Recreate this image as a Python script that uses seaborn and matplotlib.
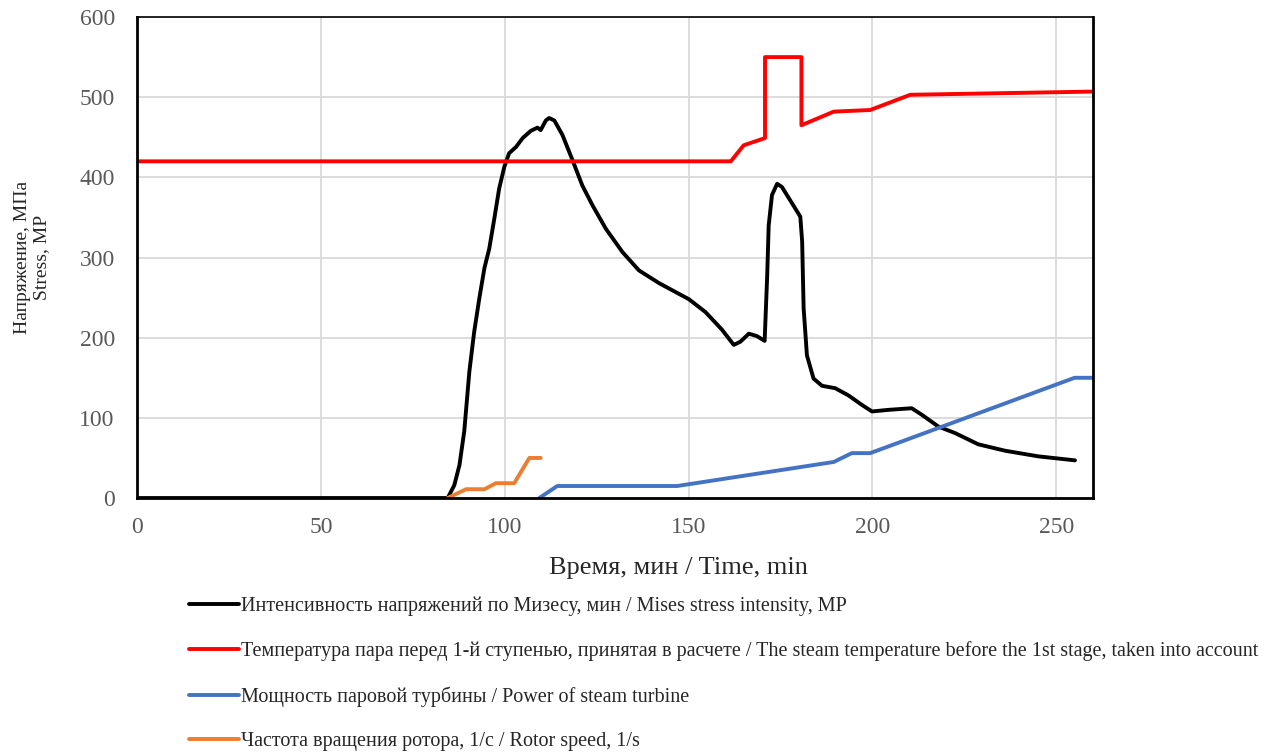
import numpy as np
import pandas as pd
import matplotlib
matplotlib.use("Agg")
import matplotlib.pyplot as plt
from matplotlib.ticker import MultipleLocator
import seaborn as sns

# --- data ---
mises_t = [0, 84.5, 86.3, 87.7, 89.0, 90.4, 91.7, 93.1, 94.5, 95.8, 97.2, 98.5, 99.9,
           101.2, 103.1, 104.9, 107.1, 108.9, 109.8, 111.2, 112.1, 113.5, 115.7, 118.4,
           121.1, 123.9, 127.5, 132.0, 136.5, 142.0, 150.1, 154.6, 159.1, 162.3, 164.1,
           166.4, 168.6, 170.7, 171.4, 171.8, 172.7, 174.1, 175.4, 180.4, 180.9, 181.3,
           182.2, 184.0, 186.3, 189.9, 193.5, 197.2, 199.9, 204.4, 210.7, 213.4, 218.0,
           222.5, 228.8, 236.1, 245.1, 255.1]
mises_s = [0, 0, 16, 41, 83, 158, 207, 249, 287, 311, 349, 386, 413,
           430, 438, 449, 458, 462, 459, 471, 474, 471, 453, 422,
           390, 365, 336, 307, 284, 268, 248, 232, 210, 191, 195,
           205, 202, 196, 278, 340, 378, 392, 388, 351, 320, 237,
           178, 149, 140, 137, 128, 116, 108, 110, 112, 104, 89,
           81, 67, 59, 52, 47]

temp_t = [0, 161.5, 165, 170.8, 170.8, 180.7, 180.7, 189.5, 199.4, 210.3, 260]
temp_v = [420, 420, 440, 449, 550, 550, 465, 482, 484, 503, 507]

power_t = [109.4, 114.3, 146.9, 189.5, 194.4, 199.4, 255, 260]
power_v = [0, 15, 15, 45, 56, 56, 150, 150]

speed_t = [84.5, 89.5, 94.5, 97.6, 102.6, 106.7, 109.8]
speed_v = [0, 11, 11, 18.5, 18.5, 50, 50]

labels = [
    "Интенсивность напряжений по Мизесу, мин / Mises stress intensity, MP",
    "Температура пара перед 1-й ступенью, принятая в расчете / The steam temperature before the 1st stage, taken into account",
    "Мощность паровой турбины / Power of steam turbine",
    "Частота вращения ротора, 1/с / Rotor speed, 1/s",
]
colors = ["#000000", "#ff0000", "#4472c4", "#ed7d31"]

sns.set_theme(style="white")
plt.rcParams["font.family"] = ["Liberation Serif", "DejaVu Serif"]

fig = plt.figure(figsize=(12.73, 7.53), dpi=100)
ax = fig.add_axes([0.1076, 0.3386, 0.7510, 0.6388])

series = [(mises_t, mises_s), (temp_t, temp_v), (power_t, power_v), (speed_t, speed_v)]
for (t, v), lab, col in zip(series, labels, colors):
    sns.lineplot(x=t, y=v, ax=ax, color=col, linewidth=2.8, label=lab,
                 sort=False, estimator=None, solid_joinstyle="round")

ax.set_xlim(0, 260)
ax.set_ylim(0, 600)
ax.xaxis.set_major_locator(MultipleLocator(50))
ax.xaxis.set_minor_locator(MultipleLocator(10))
ax.yaxis.set_major_locator(MultipleLocator(100))
ax.yaxis.set_minor_locator(MultipleLocator(20))
ax.grid(True, which="major", color="#d9d9d9", linewidth=1.3)
ax.set_axisbelow(True)
ax.tick_params(which="both", direction="in", length=6, width=1.3, color="black",
               labelsize=17, labelcolor="#595959")
ax.tick_params(axis="y", pad=16)
ax.tick_params(axis="x", pad=14)

for name, sp in ax.spines.items():
    sp.set_visible(True)
    sp.set_color("black")
    sp.set_linewidth(2.0 if name in ("left", "bottom", "right") else 1.2)

ax.set_xlabel("Время, мин / Time, min", fontsize=19)
ax.xaxis.set_label_coords(0.566, -0.122)
ax.set_ylabel("Напряжение, МПа\nStress, MP", fontsize=14, labelpad=21,
              linespacing=1.2, multialignment="center")

ax.get_legend().remove()
handles, labs = ax.get_legend_handles_labels()
fig.legend(handles, labs, loc="upper left", bbox_to_anchor=(0.142, 0.219),
           ncol=1, frameon=False, fontsize=14.5, handlelength=2.5, handletextpad=0.1,
           labelspacing=1.26, borderaxespad=0)

fig.savefig("out.png", dpi=100)
